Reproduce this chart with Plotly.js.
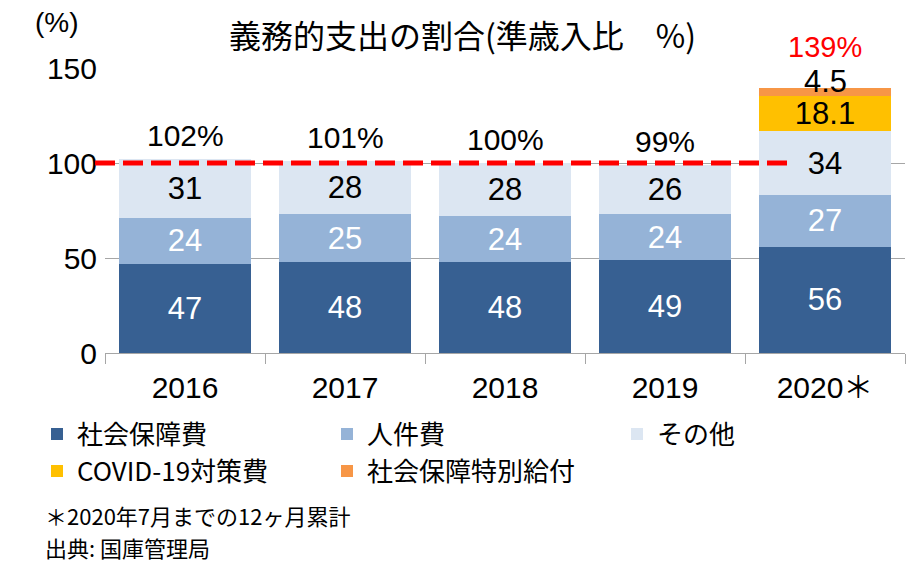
<!DOCTYPE html>
<html>
<head>
<meta charset="utf-8">
<script src="https://cdn.plot.ly/plotly-3.0.1.min.js"></script>
<style>
  html, body { margin: 0; padding: 0; background: #fff; }
  #chart { width: 907px; height: 564px; }
</style>
</head>
<body>
<div id="chart"></div>
<script>
const years = ["2016", "2017", "2018", "2019", "2020＊"];
const socialSecurity = [47, 48, 48, 49, 56];
const personnel = [24, 25, 24, 24, 27];
const others = [31, 28, 28, 26, 34];
const covid = [null, null, null, null, 18.1];
const specialBenefit = [null, null, null, null, 4.5];
const totalLabels = [102, 101, 100, 99, 139];
const refLine = 100;
const notes = ["＊2020年7月までの12ヶ月累計", "出典: 国庫管理局"];

const font = "Liberation Sans, Arial, 'Noto Sans CJK JP', sans-serif";
const jpFont = "'Noto Sans CJK JP', Liberation Sans, sans-serif";

function series(name, values, color, textColor, showText) {
    return {
        type: "bar",
        name: name,
        x: years,
        y: values,
        marker: { color: color },
        text: values.map(v => (v == null || !showText) ? "" : String(v)),
        texttemplate: "%{text}",
        textposition: "inside",
        insidetextanchor: "middle",
        constraintext: "none",
        textfont: { family: font, size: 31, color: textColor },
        cliponaxis: false,
        hoverinfo: "x+y+name"
    };
}

const data = [
    series("社会保障費", socialSecurity, "#376092", "#ffffff", true),
    series("人件費", personnel, "#95b3d7", "#ffffff", true),
    series("その他", others, "#dce6f2", "#000000", true),
    series("COVID-19対策費", covid, "#ffc000", "#000000", true),
    // label of the thin top segment sits above it (annotation below)
    series("社会保障特別給付", specialBenefit, "#f79646", "#000000", false)
];

// stack heights for the total labels
const stackTop = years.map((_, i) =>
    [socialSecurity, personnel, others, covid, specialBenefit]
        .reduce((s, arr) => s + (arr[i] || 0), 0));

const last = years.length - 1;
const annotations = years.map((yr, i) => ({
    x: i,
    y: stackTop[i],
    xref: "x",
    yref: "y",
    text: totalLabels[i] + "%",
    showarrow: false,
    yanchor: "bottom",
    yshift: i === last ? 23 : 5,
    font: { family: font, size: i === last ? 29 : 30, color: i === last ? "#ff0000" : "#000000" }
}));

years.forEach((yr, i) => {
    if (specialBenefit[i] == null) return;
    annotations.push({
        x: i, y: stackTop[i], xref: "x", yref: "y",
        text: String(specialBenefit[i]),
        showarrow: false, yanchor: "middle", yshift: 6,
        font: { family: font, size: 31, color: "#000" }
    });
});

annotations.push(
    { xref: "paper", yref: "paper", x: -0.06, y: 1.16, xanchor: "center", yanchor: "middle",
      text: "(%)", showarrow: false, font: { family: font, size: 28, color: "#000" } }
);

// footnotes, one line each
const noteY = [-0.568, -0.68];
notes.forEach((t, k) => {
    annotations.push({
        xref: "paper", yref: "paper", x: -0.078, y: noteY[k],
        xanchor: "left", yanchor: "middle", align: "left",
        text: t, showarrow: false,
        font: { family: jpFont, size: 22, color: "#000" }
    });
});

const layout = {
    width: 907,
    height: 564,
    margin: { l: 105, r: 2, t: 68, b: 211 },
    paper_bgcolor: "#ffffff",
    plot_bgcolor: "#ffffff",
    barmode: "stack",
    bargap: 0.17,
    font: { family: font, size: 28, color: "#000" },
    title: {
        text: "義務的支出の割合(準歳入比　%)",
        x: 0.51,
        xanchor: "center",
        y: 0.935,
        yanchor: "middle",
        font: { family: jpFont, size: 32, color: "#000" }
    },
    xaxis: {
        type: "category",
        range: [-0.5, 4.5],
        autorange: false,
        showgrid: false,
        showline: true,
        linecolor: "#a6a6a6",
        linewidth: 1,
        ticks: "outside",
        tickson: "boundaries",
        ticklen: 10,
        tickcolor: "#a6a6a6",
        tickangle: 0,
        ticklabelstandoff: 8,
        tickfont: { family: font, size: 30, color: "#000" }
    },
    yaxis: {
        range: [0, 150],
        autorange: false,
        tickvals: [0, 50, 100, 150],
        showgrid: true,
        gridcolor: "#a6a6a6",
        gridwidth: 1,
        zeroline: false,
        showline: false,
        ticks: "",
        ticklabelstandoff: 7,
        tickfont: { family: font, size: 30, color: "#000" }
    },
    showlegend: true,
    legend: {
        orientation: "h",
        traceorder: "normal",
        x: -0.08,
        xanchor: "left",
        y: -0.2025,
        yanchor: "top",
        entrywidth: 245,
        entrywidthmode: "pixels",
        itemwidth: 30,
        font: { family: jpFont, size: 26, color: "#000" },
        bgcolor: "rgba(0,0,0,0)"
    },
    shapes: [{
        type: "line",
        xref: "paper",
        yref: "y",
        x0: -0.0125,
        x1: 0.86,
        y0: refLine,
        y1: refLine,
        line: { color: "#ff0000", width: 5, dash: "20px,8px" }
    }],
    annotations: annotations
};

Plotly.newPlot("chart", data, layout, { displayModeBar: false, staticPlot: true });
</script>
</body>
</html>
